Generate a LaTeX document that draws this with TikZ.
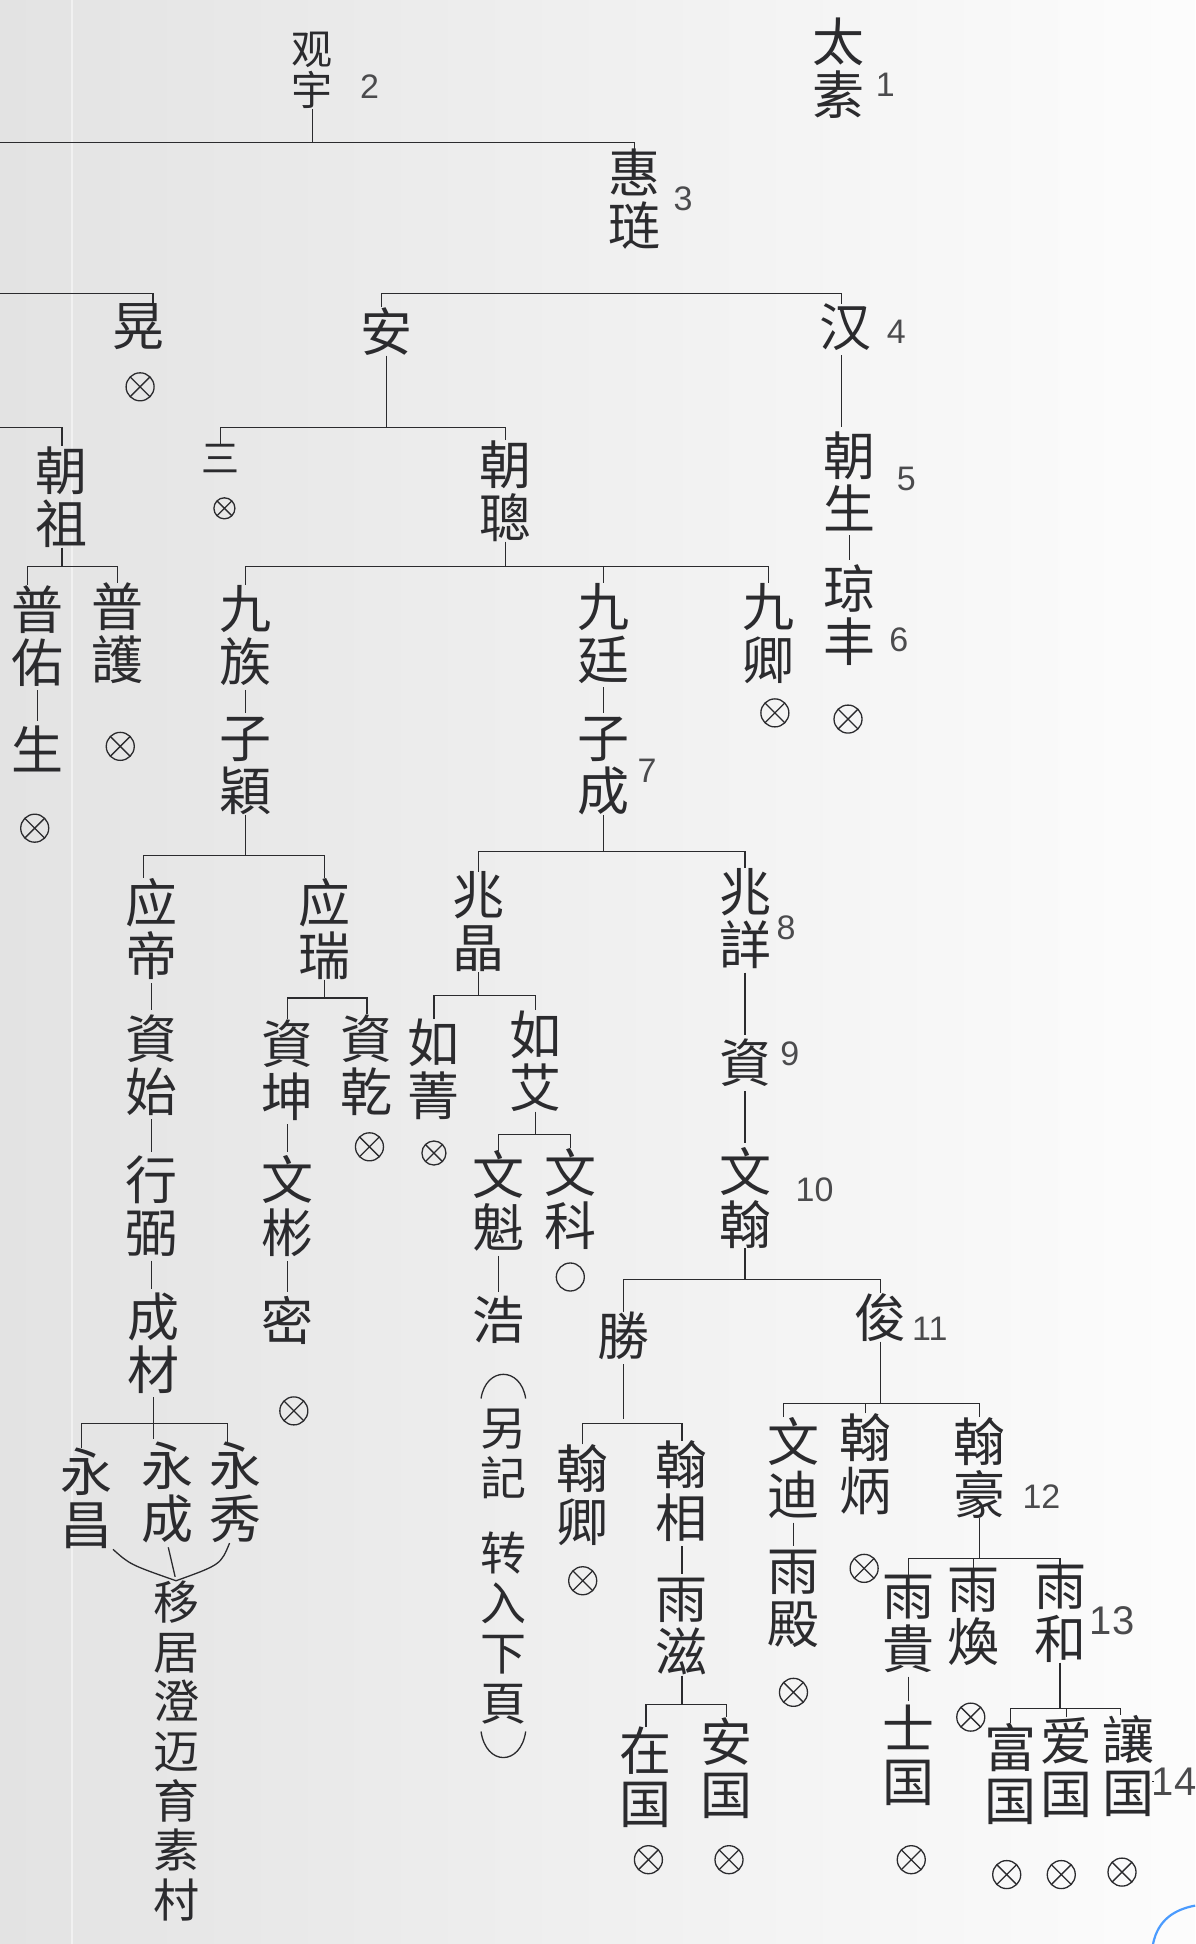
\documentclass[tikz,border=0pt]{standalone}
\usepackage{fontspec}
\usepackage{tikz}
\usetikzlibrary{calc}
\newfontfamily\cjk{Noto Sans CJK SC}
\newfontfamily\numf{Liberation Sans}
\definecolor{ink}{HTML}{2B2B2E}
\tikzset{
  nm/.style={font=\cjk\fontsize{52}{53}\selectfont, align=center, inner sep=0pt, anchor=north, text=ink},
  num/.style={font=\numf\fontsize{34}{34}\selectfont, inner sep=0pt, text=ink!85},
  ln/.style={draw=ink, line width=1.3pt},
  stub/.style={ln, shorten <=4pt, shorten >=4pt},
  dead/.style={circle, draw=ink, line width=1.3pt, minimum size=28pt, inner sep=0pt,
    path picture={\draw[ink, line width=1.3pt] (path picture bounding box.north west) -- (path picture bounding box.south east)
      (path picture bounding box.north east) -- (path picture bounding box.south west);}},
  alive/.style={circle, draw=ink, line width=1.3pt, minimum size=28pt, inner sep=0pt},
}
\begin{document}
\begin{tikzpicture}[x=1.2396pt,y=-1.2396pt]
\useasboundingbox (0,0) rectangle (964,1568);
\shade[left color=black!11, right color=black!1] (0,0) rectangle (964,1568);
\draw[white, line width=2.5pt, opacity=0.5] (58,0) -- (58,1568);

% ---------- names ----------
\node[nm] (taisu) at (676,14) {太\\素};
\node[nm, font=\cjk\fontsize{41}{41}\selectfont] (guanyu) at (252,26) {观\\宇};
\node[nm] (huilian) at (512,120) {惠\\琏};
\node[nm] (huang) at (112,245) {晃};
\node[nm] (an) at (312,248) {安};
\node[nm] (han) at (682,245) {汉};
\node[nm, font=\cjk\fontsize{38}{38}\selectfont] (san) at (178,358) {三};
\node[nm] (chaocong) at (408,355) {朝\\聰};
\node[nm] (chaozu) at (50,360) {朝\\祖};
\node[nm] (chaosheng) at (685,348) {朝\\生};
\node[nm] (qiongfeng) at (685,455) {琼\\丰};
\node[nm] (puyou) at (30,472) {普\\佑};
\node[nm] (sheng2) at (30,585) {生};
\node[nm] (puhu) at (95,470) {普\\護};
\node[nm] (jiuzu) at (198,472) {九\\族};
\node[nm] (ziying) at (198,578) {子\\穎};
\node[nm] (jiuting) at (487,470) {九\\廷};
\node[nm] (zicheng) at (487,578) {子\\成};
\node[nm] (jiuqing) at (620,470) {九\\卿};
\node[nm] (yingdi) at (122,708) {应\\帝};
\node[nm] (zishi) at (122,818) {資\\始};
\node[nm] (xingbi) at (122,932) {行\\弼};
\node[nm] (chengcai) at (124,1043) {成\\材};
\node[nm] (yongchang) at (70,1168) {永\\昌};
\node[nm] (yongcheng) at (135,1163) {永\\成};
\node[nm] (yongxiu) at (190,1163) {永\\秀};
\node[nm, font=\cjk\fontsize{46}{49.6}\selectfont] (yiju) at (142,1275) {移\\居\\澄\\迈\\育\\素\\村};
\node[nm] (yingrui) at (262,708) {应\\瑞};
\node[nm] (zikun) at (232,822) {資\\坤};
\node[nm] (ziqian) at (296,818) {資\\乾};
\node[nm] (wenbin) at (232,932) {文\\彬};
\node[nm] (mi) at (232,1045) {密};
\node[nm] (zhaojing) at (386,703) {兆\\晶};
\node[nm] (zhaoxiang) at (601,700) {兆\\詳};
\node[nm] (rujing) at (350,822) {如\\菁};
\node[nm] (ruai) at (432,815) {如\\艾};
\node[nm] (wenkui) at (402,928) {文\\魁};
\node[nm] (wenke) at (460,926) {文\\科};
\node[nm] (hao) at (402,1045) {浩};
\node[nm, font=\cjk\fontsize{46}{50}\selectfont] (note) at (406,1136) {另\\記\\[25pt]转\\入\\下\\頁};
\node[nm] (zi9) at (601,838) {資};
\node[nm] (wenhan) at (601,925) {文\\翰};
\node[nm] (sheng) at (503,1058) {勝};
\node[nm] (jun) at (710,1043) {俊};
\node[nm] (hanqing) at (470,1165) {翰\\卿};
\node[nm] (hanxiang) at (550,1162) {翰\\相};
\node[nm] (yuzi) at (550,1273) {雨\\滋};
\node[nm] (zaiguo) at (521,1393) {在\\国};
\node[nm] (anguo) at (586,1385) {安\\国};
\node[nm] (wendi) at (640,1143) {文\\迪};
\node[nm] (yudian) at (640,1250) {雨\\殿};
\node[nm] (hanbing) at (698,1140) {翰\\炳};
\node[nm] (hanhao) at (790,1143) {翰\\豪};
\node[nm] (yugui) at (733,1270) {雨\\貴};
\node[nm] (shiguo) at (733,1375) {士\\国};
\node[nm] (yuhuan) at (785,1265) {雨\\煥};
\node[nm] (yuhe) at (855,1262) {雨\\和};
\node[nm] (fuguo) at (815,1390) {富\\国};
\node[nm] (aiguo) at (860,1385) {爱\\国};
\node[nm] (rangguo) at (910,1383) {讓\\国};

% ---------- marks ----------
\node[dead] (x1) at (113,312) {};
\node[dead, minimum size=21pt] (x2) at (181,410) {};
\node[dead] (x3) at (684,580) {};
\node[dead] (x4) at (28,668) {};
\node[dead] (x5) at (97,602) {};
\node[dead] (x6) at (625,575) {};
\node[dead] (x7) at (298,925) {};
\node[dead] (x8) at (237,1138) {};
\node[dead, minimum size=24pt] (x9) at (350,930) {};
\node[alive] (o1) at (460,1030) {};
\node[dead] (x10) at (470,1275) {};
\node[dead] (x11) at (523,1500) {};
\node[dead] (x12) at (588,1500) {};
\node[dead] (x13) at (640,1365) {};
\node[dead] (x14) at (697,1265) {};
\node[dead] (x15) at (735,1500) {};
\node[dead] (x16) at (783,1385) {};
\node[dead] (x17) at (812,1512) {};
\node[dead] (x18) at (856,1512) {};
\node[dead] (x19) at (905,1510) {};

% ---------- generation numbers ----------
\node[num] (n1) at (714,68) {1};
\node[num] (n2) at (298,70) {2};
\node[num] (n3) at (551,160) {3};
\node[num] (n4) at (723,268) {4};
\node[num] (n5) at (731,386) {5};
\node[num] (n6) at (725,516) {6};
\node[num] (n7) at (522,622) {7};
\node[num] (n8) at (634,748) {8};
\node[num] (n9) at (637,850) {9};
\node[num] (n10) at (657,960) {10};
\node[num] (n11) at (750,1072) {11};
\node[num] (n12) at (840,1207) {12};
\node[num, font=\numf\fontsize{40}{40}\selectfont] (n13) at (897,1307) {13};
\node[num, font=\numf\fontsize{40}{40}\selectfont] (n14) at (947,1437) {14};

% ---------- connectors ----------
\coordinate (w1) at (0,115);
\coordinate (w2) at (0,237);
\coordinate (w3) at (0,345);
\coordinate (w4) at (0,457);
\coordinate (w5) at (0,690);
\coordinate (w6) at (0,1148);
\coordinate (w7) at (0,805);
\coordinate (w8) at (0,687);
\coordinate (w9) at (0,803);
\coordinate (w10) at (0,915);
\coordinate (w11) at (0,1032);
\coordinate (w12) at (0,1148);
\coordinate (w13) at (0,1375);
\coordinate (w14) at (0,1132);
\coordinate (w15) at (0,1257);
\coordinate (w16) at (0,1378);

\draw[ln] (w1) -| (huilian.north);
\draw[ln] (guanyu.south) -- (guanyu.south |- w1);

\draw[ln] (w2) -| ([xshift=14pt]huang.north);
\draw[ln] ([xshift=-5pt]an.north) -- ([xshift=-5pt]an.north |- w2) -| ([xshift=-4pt]han.north);

\draw[ln] (an.south) -- (an.south |- w3);
\draw[ln] (san.north) -- (san.north |- w3) -| (chaocong.north);
\draw[ln] (w3) -| (chaozu.north);

\draw[stub] ([xshift=-4pt]han.south) -- ([xshift=-4pt]han.south |- chaosheng.north);
\draw[stub] (chaosheng.south) -- (qiongfeng.north);

\draw[ln] (chaocong.south) -- (chaocong.south |- w4);
\draw[ln] (jiuzu.north) -- (jiuzu.north |- w4) -| (jiuqing.north);
\draw[ln] (jiuting.north) -- (jiuting.north |- w4);
\draw[ln] (chaozu.south) -- (chaozu.south |- w4);
\draw[ln] ([xshift=-10pt]puyou.north) -- ([xshift=-10pt]puyou.north |- w4) -| (puhu.north);
\draw[stub] (puyou.south) -- (sheng2.north);

\draw[stub] (jiuzu.south) -- (ziying.north);
\draw[stub] (jiuting.south) -- (zicheng.north);

\draw[ln] (ziying.south) -- (ziying.south |- w5);
\draw[ln] ([xshift=-8pt]yingdi.north) -- ([xshift=-8pt]yingdi.north |- w5) -| (yingrui.north);
\draw[stub] (yingdi.south) -- (yingdi.south |- zishi.north);
\draw[stub] (zishi.south) -- (zishi.south |- xingbi.north);
\draw[stub] (xingbi.south) -- (xingbi.south |- chengcai.north);
\draw[ln, shorten <=3pt, shorten >=3pt] (chengcai.south) -- (chengcai.south |- yongcheng.north);
\draw[ln] ([xshift=-5pt]yongchang.north) -- ([xshift=-5pt]yongchang.north |- w6) -| ([xshift=-8pt]yongxiu.north);
\draw[ln] (yongchang.south east) .. controls (105,1262) .. (yiju.north);
\draw[ln] ([xshift=-6pt]yongxiu.south) .. controls (178,1262) .. (yiju.north);
\draw[stub] (yongcheng.south) -- (yiju.north);

\draw[ln] (yingrui.south) -- (yingrui.south |- w7);
\draw[ln] (zikun.north) -- (zikun.north |- w7) -| (ziqian.north);
\draw[stub] (zikun.south) -- (wenbin.north);
\draw[stub] (wenbin.south) -- (mi.north);

\draw[ln] (zicheng.south) -- (zicheng.south |- w8);
\draw[ln] (zhaojing.north) -- (zhaojing.north |- w8) -| (zhaoxiang.north);
\draw[ln] (zhaojing.south) -- (zhaojing.south |- w9);
\draw[ln] (rujing.north) -- (rujing.north |- w9) -| (ruai.north);
\draw[ln] (ruai.south) -- (ruai.south |- w10);
\draw[ln] (wenkui.north) -- (wenkui.north |- w10) -| (wenke.north);
\draw[stub] (wenkui.south) -- (hao.north);
% brackets around the note
\draw[ln] ($(note.north)+(-18,-8)$) .. controls ($(note.north)+(-14,-34)$) and ($(note.north)+(14,-34)$) .. ($(note.north)+(18,-8)$);
\draw[ln] ($(note.south)+(-18,6)$) .. controls ($(note.south)+(-14,34)$) and ($(note.south)+(14,34)$) .. ($(note.south)+(18,6)$);

\draw[stub] (zhaoxiang.south) -- (zi9.north);
\draw[stub] (zi9.south) -- (wenhan.north);
\draw[ln] (wenhan.south) -- (wenhan.south |- w11);
\draw[ln] (sheng.north) -- (sheng.north |- w11) -| (jun.north);

\draw[stub] (sheng.south) -- (sheng.south |- w12);
\draw[ln] (hanqing.north) -- (hanqing.north |- w12) -| (hanxiang.north);
\draw[stub] (hanxiang.south) -- (yuzi.north);
\draw[ln] (yuzi.south) -- (yuzi.south |- w13);
\draw[ln] (zaiguo.north) -- (zaiguo.north |- w13) -| (anguo.north);

\draw[ln] (jun.south) -- (jun.south |- w14);
\draw[ln] ([xshift=-10pt]wendi.north) -- ([xshift=-10pt]wendi.north |- w14) -| (hanhao.north);
\draw[ln] (hanbing.north) -- (hanbing.north |- w14);
\draw[stub] (wendi.south) -- (yudian.north);

\draw[ln] (hanhao.south) -- (hanhao.south |- w15);
\draw[ln] (yugui.north) -- (yugui.north |- w15) -| (yuhe.north);
\draw[ln] (yuhuan.north) -- (yuhuan.north |- w15);
\draw[stub] (yugui.south) -- (shiguo.north);

\draw[ln] (yuhe.south) -- (yuhe.south |- w16);
\draw[ln] (fuguo.north) -- (fuguo.north |- w16) -| ([xshift=-8pt]rangguo.north);
\draw[ln] (aiguo.north) -- (aiguo.north |- w16);
\draw[ln, line width=1pt] (rangguo.east |- n14.west) -- (n14.west);

% blue pen mark
\draw[blue!55!cyan, line width=2.2pt, opacity=0.7] (930,1568) .. controls (934,1548) and (948,1540) .. (964,1537);
\end{tikzpicture}
\end{document}
